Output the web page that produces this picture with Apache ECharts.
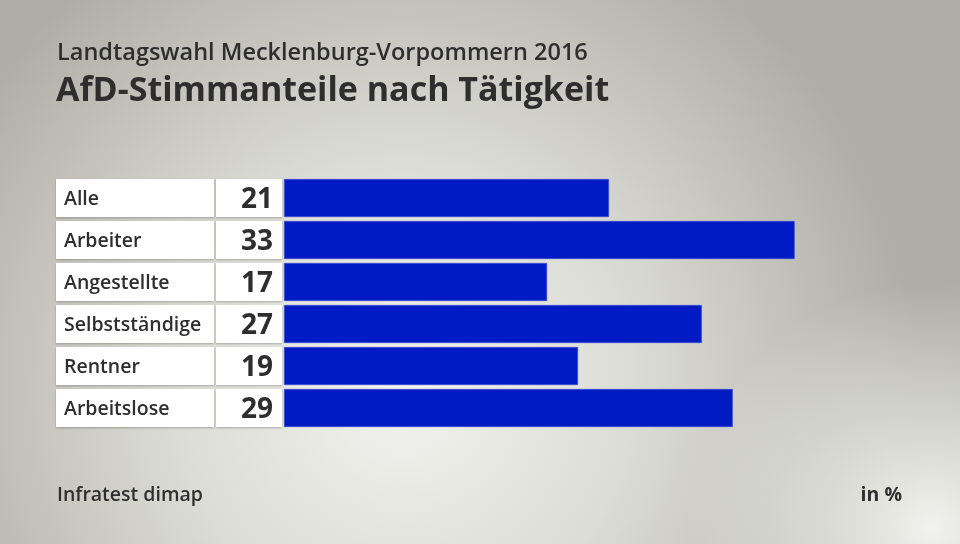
<!DOCTYPE html>
<html>
<head>
<meta charset="utf-8">
<script src="https://cdn.jsdelivr.net/npm/echarts@6/dist/echarts.min.js"></script>
<style>
  html, body { margin: 0; padding: 0; }
  #chart { width: 960px; height: 544px; }
</style>
</head>
<body>
<div id="chart"></div>
<script>
// Data
var categories = ['Alle', 'Arbeiter', 'Angestellte', 'Selbstständige', 'Rentner', 'Arbeitslose'];
var values = [21, 33, 17, 27, 19, 29];

var FONT = '"Open Sans", "Noto Sans", sans-serif';
var TEXT = '#2e2e2e';
var BAR = '#001ac4';

var chart = echarts.init(document.getElementById('chart'), null, { renderer: 'canvas' });

// label + value cells left of each bar
function renderCells(params, api) {
  var idx = api.value(0);
  var p = api.coord([0, idx]);
  var h = 38;
  var top = p[1] - h / 2;
  var shadow = { shadowColor: 'rgba(0,0,0,0.25)', shadowBlur: 2, shadowOffsetY: 1 };
  return {
    type: 'group',
    children: [
      { type: 'rect', shape: { x: p[0] - 228, y: top, width: 158, height: h },
        style: Object.assign({ fill: '#ffffff' }, shadow) },
      { type: 'rect', shape: { x: p[0] - 68, y: top, width: 66, height: h },
        style: Object.assign({ fill: '#ffffff' }, shadow) },
      { type: 'text', x: p[0] - 220, y: p[1] + 1,
        style: { text: categories[idx], font: '600 19.5px ' + FONT, fill: TEXT,
                 textAlign: 'left', textVerticalAlign: 'middle' } },
      { type: 'text', x: p[0] - 11, y: p[1] + 2,
        style: { text: String(values[idx]), font: '700 28px ' + FONT, fill: TEXT,
                 textAlign: 'right', textVerticalAlign: 'middle' } }
    ]
  };
}

var option = {
  backgroundColor: new echarts.graphic.RadialGradient(0.42, 0.72, 0.95, [
    { offset: 0, color: '#f3f3ef' },
    { offset: 0.45, color: '#dcdcd6' },
    { offset: 1, color: '#aeaea6' }
  ]),
  animation: false,
  graphic: [
    { type: 'rect', left: 0, top: 0, shape: { width: 960, height: 544 },
      style: { fill: new echarts.graphic.RadialGradient(0.97, 0.97, 0.45, [
        { offset: 0, color: 'rgba(246,246,242,0.95)' },
        { offset: 1, color: 'rgba(246,246,242,0)' }
      ]) }, z: -1 },
    { type: 'text', left: 57, top: 41,
      style: { text: 'Landtagswahl Mecklenburg-Vorpommern 2016', font: '600 23.5px ' + FONT, fill: TEXT } },
    { type: 'text', left: 56, top: 74,
      style: { text: 'AfD-Stimmanteile nach Tätigkeit', font: '700 34px ' + FONT, fill: TEXT } },
    { type: 'text', left: 57, top: 485,
      style: { text: 'Infratest dimap', font: '600 19.5px ' + FONT, fill: TEXT } },
    { type: 'text', right: 58, top: 485,
      style: { text: 'in %', font: '700 19.5px ' + FONT, fill: TEXT } }
  ],
  grid: { left: 284, top: 177, width: 619, height: 252 },
  xAxis: {
    type: 'value', min: 0, max: 40,
    show: false
  },
  yAxis: {
    type: 'category', data: categories, inverse: true,
    show: false
  },
  series: [
    {
      type: 'bar',
      data: values,
      barWidth: 38,
      itemStyle: { color: BAR, borderColor: '#3a4fd6', borderWidth: 0.6 },
      silent: true
    },
    {
      type: 'custom',
      data: categories.map(function (c, i) { return [i]; }),
      encode: { y: 0 },
      renderItem: renderCells,
      silent: true
    }
  ]
};

chart.setOption(option);
</script>
</body>
</html>
